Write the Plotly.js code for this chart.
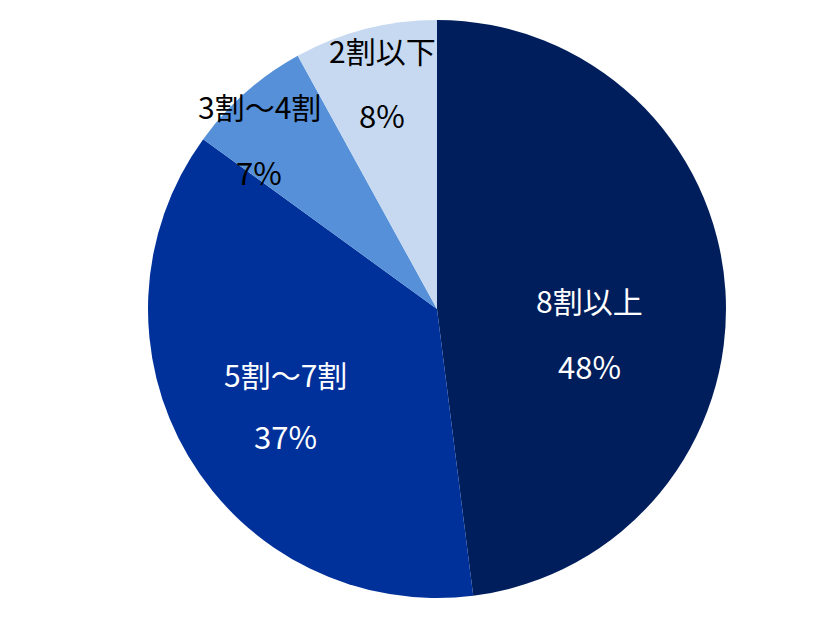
<!DOCTYPE html>
<html><head><meta charset="utf-8">
<script src="https://cdn.plot.ly/plotly-3.0.1.min.js"></script>
<style>html,body{margin:0;padding:0;background:#fff}#chart{width:840px;height:623px}</style>
</head><body><div id="chart"></div>
<script>
const categories = ['8割以上', '5割～7割', '3割～4割', '2割以下'];
const values = [48, 37, 7, 8];
const percentLabels = ['48%', '37%', '7%', '8%'];
const colors = ['#001E5B', '#00319B', '#5590D8', '#C6D9F1'];
const textColors = ['#ffffff', '#ffffff', '#000000', '#000000'];

// label anchor positions (paper coords) for name and percent lines
const labelPos = [
  {x: 589/840, yName: 300, yPct: 365},
  {x: 285/840, yName: 374, yPct: 435},
  {x: 259/840, yName: 106, yPct: 172},
  {x: 382/840, yName: 50,  yPct: 115}
];
const H = 623;
const font = 'Noto Sans CJK JP, Noto Sans, sans-serif';
const annotations = [];
categories.forEach((c, i) => {
  const p = labelPos[i];
  annotations.push({xref:'paper', yref:'paper', x:p.x, y:1 - p.yName/H, text:c, showarrow:false,
    xanchor:'center', yanchor:'middle', font:{family:font, size:30, color:textColors[i]}});
  annotations.push({xref:'paper', yref:'paper', x:p.x, y:1 - p.yPct/H, text:percentLabels[i], showarrow:false,
    xanchor:'center', yanchor:'middle', font:{family:font, size:31, color:textColors[i]}});
});

Plotly.newPlot('chart', [{
  type: 'pie',
  labels: categories,
  values: values,
  sort: false,
  direction: 'clockwise',
  rotation: 0,
  marker: {colors: colors, line: {width: 0}},
  textinfo: 'none',
  hoverinfo: 'none',
  domain: {x: [148/840, 726/840], y: [25/623, 603/623]}
}], {
  width: 840, height: 623,
  margin: {l:0, r:0, t:0, b:0},
  showlegend: false,
  paper_bgcolor: '#ffffff',
  annotations: annotations
}, {staticPlot: true});
</script></body></html>
